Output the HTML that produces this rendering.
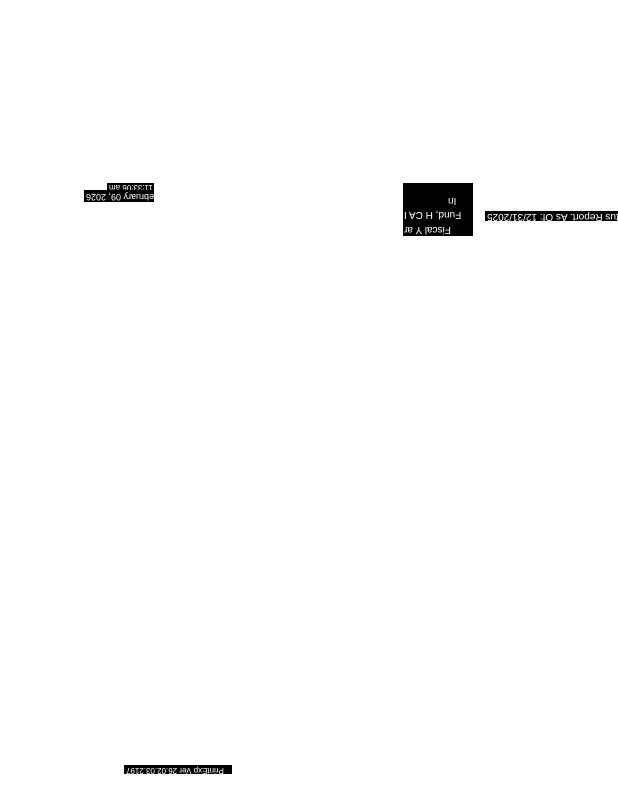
<!DOCTYPE html>
<html><head><style>
body{margin:0;width:618px;height:800px;background:#fff;position:relative;overflow:hidden;font-family:"Liberation Sans",sans-serif;}
.b{position:absolute;background:#000;color:#fff;transform:rotate(180deg);white-space:nowrap;overflow:hidden;line-height:1;}
.b span{position:absolute;right:2px;top:0;}
</style></head><body>
<div class="b" style="left:107px;top:183px;width:47px;height:8px;font-size:8px;"><span>11:33:06 am</span></div>
<div class="b" style="left:84px;top:190px;width:70px;height:12px;font-size:9px;"><span style="top:1px">February 09, 2026</span></div>
<div class="b" style="left:403px;top:183px;width:70px;height:53px;font-size:10px;">
<div style="position:absolute;right:1px;top:2px;">Fiscal Y ar</div>
<div style="position:absolute;right:1px;top:17px;">Fund, H CA I</div>
<div style="position:absolute;right:45px;top:31px;">In</div>
</div>
<div class="b" style="left:485px;top:211px;width:133px;height:10px;font-size:10px;"><span>Status Report. As Of: 12/31/2025</span></div>
<div class="b" style="left:124px;top:765px;width:108px;height:9px;font-size:8px;"><span>PrintExp Ver 26.02.03.2197</span></div>
</body></html>
